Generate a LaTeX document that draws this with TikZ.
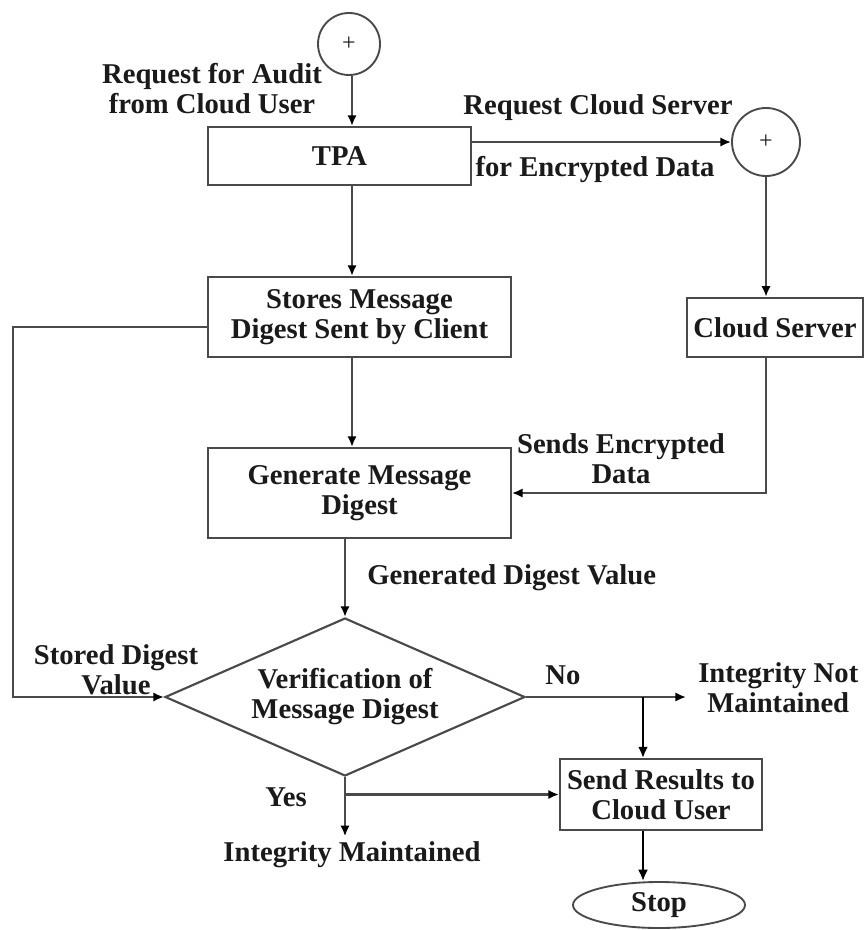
\documentclass[tikz,border=0pt]{standalone}
\usepackage{fontspec}
\setmainfont{Liberation Serif}
\usetikzlibrary{arrows.meta,shapes.geometric}
\definecolor{edge}{HTML}{4A4A4A}
\definecolor{ink}{HTML}{1A1A1A}
\begin{document}
\begin{tikzpicture}[x=0.75pt,y=-0.75pt,
  every node/.style={font=\fontsize{21.5}{22.5}\selectfont\bfseries, text=ink},
  box/.style={rectangle, draw=edge, line width=1.6pt, align=center, inner sep=0pt},
  junction/.style={circle, draw=edge, line width=1.4pt, inner sep=0pt,
    font=\fontsize{18}{18}\selectfont},
  lbl/.style={align=center, inner sep=0pt},
  arr/.style={draw=edge, line width=1.6pt, -{Latex[length=8pt,width=7pt,color=black]}},
  heavy/.style={draw=black, line width=2.1pt, -{Latex[length=8.5pt,width=7.5pt]}}
]
\useasboundingbox[fill=white] (0,0) rectangle (866,930);

% junction circles
\node[junction, minimum size=46.5pt] (start) at (349,44) {+};
\node[junction, minimum size=51pt] (fork) at (766,142) {+};

% process boxes
\node[box, minimum width=197pt, minimum height=43.5pt] (tpa) at (339.5,156) {TPA};
\node[box, minimum width=227pt, minimum height=60pt] (stores) at (359.5,317)
  {Stores Message\\Digest Sent by Client};
\node[box, minimum width=227pt, minimum height=67.5pt] (gen) at (359.5,493)
  {Generate Message\\Digest};
\node[box, minimum width=132pt, minimum height=44.5pt] (cs) at (775,327.5) {Cloud Server};
\node[box, minimum width=151.5pt, minimum height=53pt] (send) at (661,794.5)
  {Send Results to\\Cloud User};

% decision and terminator
\node[diamond, draw=edge, line width=1.6pt, aspect=2.28, inner sep=0pt,
  minimum width=270pt, minimum height=118.5pt, align=center] (dia) at (345,697)
  {Verification of\\Message Digest};
\node[ellipse, draw=edge, line width=1.4pt, inner sep=0pt,
  minimum width=129pt, minimum height=34.5pt] (stop) at (659,905) {Stop};

% free labels
\node[lbl] (audit) at (212,89) {Request for Audit\\from Cloud User};
\node[lbl] (reqcs) at (598,108) {Request Cloud Server};
\node[lbl] (forenc) at (595,170) {for Encrypted Data};
\node[lbl] (sends) at (621,459) {Sends Encrypted\\Data};
\node[lbl, anchor=west] (genval) at (367,578) {Generated Digest Value};
\node[lbl] (stored) at (116,670) {Stored Digest\\Value};
\node[lbl] (no) at (563,675) {No};
\node[lbl, anchor=west] (inm) at (698,688) {Integrity Not\\Maintained};
\node[lbl] (yes) at (286,797) {Yes};
\node[lbl, inner sep=4pt] (im) at (352,855) {Integrity Maintained};

% helper coordinates for vertical runs
\coordinate (spine) at (352,0);
\coordinate (loopx) at (13,0);
\coordinate (brx) at (643,0);

% connectors
\draw[arr] (start.south -| spine) -- (tpa.north -| spine);
\draw[arr] (fork.west -| tpa.east) -- (fork.west);
\draw[arr] (fork.south) -- (fork.south |- cs.north);
\draw[arr] (tpa.south -| spine) -- (stores.north -| spine);
\draw[arr] (stores.south -| spine) -- (gen.north -| spine);
\draw[arr] (gen.south -| dia.north) -- (dia.north);
\draw[arr] (cs.south -| fork) |- (gen.east);
\draw[arr] ([yshift=-7.5pt]stores.west) -| (loopx |- dia.west) -- (dia.west);
\draw[arr] (dia.east) -- ([xshift=-9pt]inm.west |- dia.east);
\draw[heavy] (dia.east -| brx) -- (send.north -| brx);
\draw[arr] (dia.south) -- (dia.south |- im.north);
\draw[arr] (dia.south |- send.west) -- (send.west);
\draw[heavy] (send.south -| brx) -- (stop.north -| brx);
\end{tikzpicture}
\end{document}
